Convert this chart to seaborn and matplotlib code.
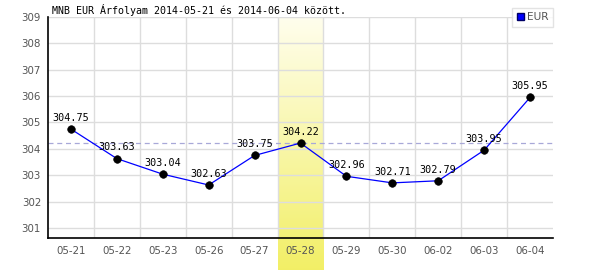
import numpy as np
import pandas as pd
import matplotlib
matplotlib.use("Agg")
import matplotlib.pyplot as plt
import matplotlib.transforms as mtransforms
from matplotlib.patches import Patch
import seaborn as sns

dates = ["05-21", "05-22", "05-23", "05-26", "05-27", "05-28",
         "05-29", "05-30", "06-02", "06-03", "06-04"]
rates = [304.75, 303.63, 303.04, 302.63, 303.75, 304.22,
         302.96, 302.71, 302.79, 303.95, 305.95]
y_ticks = [301, 302, 303, 304, 305, 306, 307, 308, 309]
highlight_index = 5
title = "MNB EUR Árfolyam 2014-05-21 és 2014-06-04 között."
series_name = "EUR"

df = pd.DataFrame({"date": dates, "rate": rates, "pos": np.arange(len(dates))})

sns.set_theme(style="white")
plt.rcParams["font.family"] = ["DejaVu Sans"]

fig = plt.figure(figsize=(6, 2.7), dpi=100)
ax = fig.add_axes([48 / 600, 1 - 238 / 270, 505 / 600, 221 / 270])

# highlight gradient band (extends below axis to figure bottom)
trans = mtransforms.blended_transform_factory(ax.transData, ax.transAxes)
grad = np.linspace(0, 1, 256).reshape(-1, 1)
top = np.array([1.0, 0.996, 0.93])
bot = np.array([0.949, 0.937, 0.40])
colors = (top[None, :] * (1 - grad) + bot[None, :] * grad).reshape(256, 1, 3)
ax.imshow(colors, aspect="auto", transform=trans,
          extent=(highlight_index - 0.5, highlight_index + 0.5, -32 / 221, 1.0),
          origin="upper", clip_on=False, zorder=0.5, interpolation="bilinear")
ax.set_xlim(-0.5, len(dates) - 0.5)
ax.set_ylim(300.62, 309.0)

ax.set_yticks(y_ticks)
ax.set_xticks(np.arange(len(dates)))
ax.set_xticklabels(dates)
ax.grid(False)
for yv in y_ticks:
    ax.axhline(yv, color="#dddddd", lw=1, zorder=0.6)
for xv in np.arange(len(dates) - 1) + 0.5:
    ax.axvline(xv, color="#dddddd", lw=1, zorder=0.6)

# reference dashed line at highlighted day's value
ax.axhline(rates[highlight_index], color="#a8a8d8", lw=0.9, ls=(0, (4, 3)), zorder=1)

sns.lineplot(data=df, x="pos", y="rate", ax=ax, color="#0000ff", lw=0.9,
             zorder=2, legend=False)
sns.scatterplot(data=df, x="pos", y="rate", ax=ax, color="black", s=30,
                edgecolor="black", zorder=3, legend=False)

for p, v in zip(df["pos"], df["rate"]):
    ax.annotate(f"{v:.2f}", (p, v), xytext=(0, 4.5), textcoords="offset points",
                ha="center", va="bottom", fontsize=7.3, family="DejaVu Sans Mono",
                color="black", zorder=4)

ax.set_xlabel("")
ax.set_ylabel("")
for s in ["top", "right"]:
    ax.spines[s].set_visible(False)
for s in ["left", "bottom"]:
    ax.spines[s].set_color("black")
    ax.spines[s].set_linewidth(1.2)
ax.tick_params(axis="both", which="both", length=0, labelsize=7.4, labelcolor="#555555")
ax.tick_params(axis="y", pad=5)
ax.tick_params(axis="x", pad=6)

fig.text(52 / 600, 1 - 14 / 270, title, family="DejaVu Sans Mono", fontsize=7.2,
         color="black", ha="left", va="baseline")

leg = ax.legend(handles=[Patch(facecolor="#0000ff", edgecolor="#000066", label=series_name)],
                loc="upper right", bbox_to_anchor=(1.0, 1.04), frameon=True,
                fontsize=7.6, handlelength=0.7, handleheight=0.7, handletextpad=0.3,
                borderpad=0.4, fancybox=False, borderaxespad=0)
leg.get_frame().set_edgecolor("#dddddd")
leg.get_frame().set_linewidth(1)
for t in leg.get_texts():
    t.set_color("#555555")

fig.savefig("out.png", dpi=100)
